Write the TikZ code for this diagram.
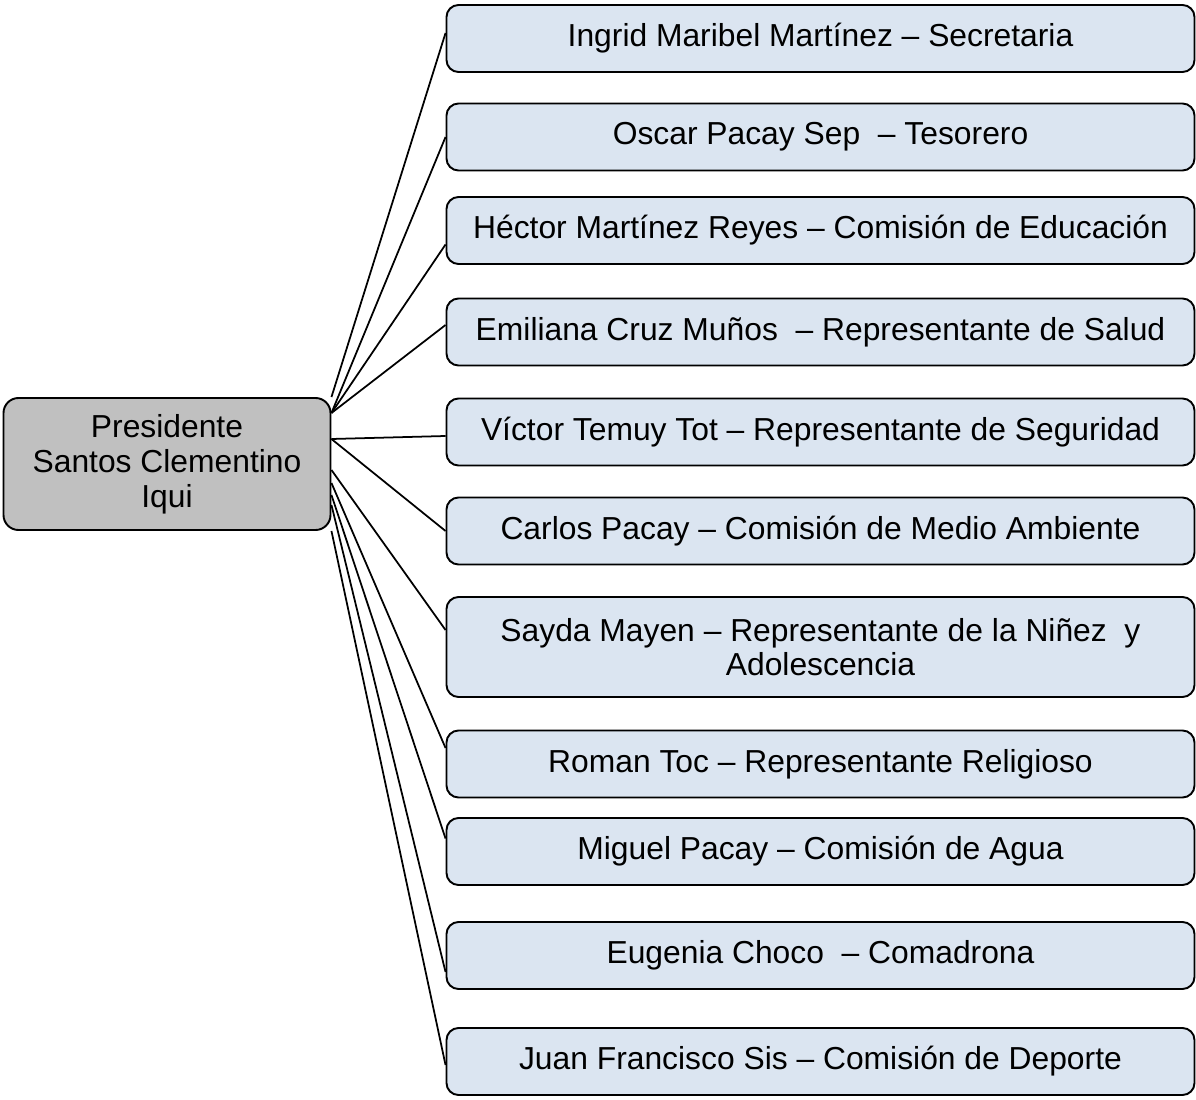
\documentclass[tikz,border=0pt]{standalone}
\usepackage{fontspec}
\setmainfont{Liberation Sans}
\definecolor{azulclaro}{HTML}{DBE5F1}
\definecolor{gris}{HTML}{C0C0C0}
\begin{document}
\begin{tikzpicture}
            \tikzstyle{cargo}=[draw,line width=1.1pt,rounded corners=0.24cm,fill=azulclaro,minimum width=14.96cm,minimum height=1.34cm,align=center,font=\fontsize{18.1}{19.5}\selectfont]
            \tikzstyle{presi}=[draw,line width=1.1pt,rounded corners=0.3cm,fill=gris,minimum width=6.54cm,minimum height=2.64cm,align=center,font=\fontsize{18.1}{20}\selectfont]
            \useasboundingbox (0,0) rectangle (23.92,-22);
            \node[presi] (p) at (3.34,-9.28) {Presidente\\Santos Clementino\\Iqui};
            \node[cargo] (1) at (16.41,-0.77) {Ingrid Maribel Martínez – Secretaria};
            \node[cargo] (2) at (16.41,-2.74) {Oscar Pacay Sep~ – Tesorero};
            \node[cargo] (3) at (16.41,-4.61) {Héctor Martínez Reyes – Comisión de Educación};
            \node[cargo] (4) at (16.41,-6.64) {Emiliana Cruz Muños~ – Representante de Salud};
            \node[cargo] (5) at (16.41,-8.64) {Víctor Temuy Tot – Representante de Seguridad};
            \node[cargo] (6) at (16.41,-10.62) {Carlos Pacay – Comisión de Medio Ambiente};
            \node[cargo,minimum height=2cm] (7) at (16.41,-12.94) {Sayda Mayen – Representante de la Niñez~ y\\Adolescencia};
            \node[cargo] (8) at (16.41,-15.28) {Roman Toc – Representante Religioso};
            \node[cargo] (9) at (16.41,-17.03) {Miguel Pacay – Comisión de Agua};
            \node[cargo] (10) at (16.41,-19.11) {Eugenia Choco~ – Comadrona};
            \node[cargo] (11) at (16.41,-21.23) {Juan Francisco Sis – Comisión de Deporte};
            \draw[line width=1pt] (p.north east) -- ([yshift=0.11cm]1.west);
            \draw[line width=1pt] ([yshift=1.02cm]p.east) -- (2.west);
            \draw[line width=1pt] ([yshift=1.02cm]p.east) -- ([yshift=-0.28cm]3.west);
            \draw[line width=1pt] ([yshift=1.02cm]p.east) -- ([yshift=0.14cm]4.west);
            \draw[line width=1pt] ([yshift=0.5cm]p.east) -- ([yshift=-0.08cm]5.west);
            \draw[line width=1pt] ([yshift=0.5cm]p.east) -- (6.west);
            \draw[line width=1pt] ([yshift=-0.12cm]p.east) -- ([yshift=0.34cm]7.west);
            \draw[line width=1pt] ([yshift=-0.38cm]p.east) -- ([yshift=0.32cm]8.west);
            \draw[line width=1pt] ([yshift=-0.62cm]p.east) -- ([yshift=0.26cm]9.west);
            \draw[line width=1pt] ([yshift=-0.82cm]p.east) -- ([yshift=-0.33cm]10.west);
            \draw[line width=1pt] (p.south east) -- ([yshift=-0.07cm]11.west);
        \end{tikzpicture}
\end{document}
